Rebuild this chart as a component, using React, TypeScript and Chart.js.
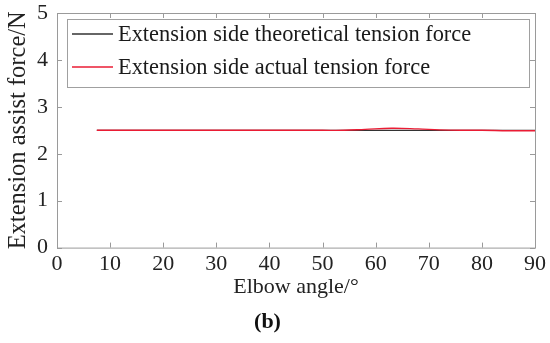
import React, { useEffect, useRef } from "react";
import { Chart, registerables } from "chart.js";

Chart.register(...registerables);

const angles = [7.5, 20, 30, 40, 50, 54, 58, 63, 68, 72, 76, 80, 85, 90];
const theoretical = [2.5, 2.5, 2.5, 2.5, 2.5, 2.5, 2.5, 2.5, 2.5, 2.5, 2.5, 2.5, 2.5, 2.5];
const actual = [2.5, 2.5, 2.5, 2.5, 2.5, 2.5, 2.52, 2.545, 2.53, 2.51, 2.5, 2.5, 2.49, 2.49];
const xTicks = [0, 10, 20, 30, 40, 50, 60, 70, 80, 90];
const yTicks = [0, 1, 2, 3, 4, 5];
const seriesLabels = ["Extension side theoretical tension force", "Extension side actual tension force"];
const seriesColors = ["#333333", "#ea1c34"];

const FONT = "'Liberation Serif', 'Times New Roman', serif";

const framePlugin = {
  id: "frame",
  afterDraw(chart: any) {
    const { ctx, chartArea } = chart;
    const { left, right, top, bottom } = chartArea;
    ctx.save();
    ctx.strokeStyle = "#9a9a9a";
    ctx.lineWidth = 1;
    ctx.strokeRect(left + 0.5, top + 0.5, right - left, bottom - top);
    const xs = chart.scales.x;
    const ys = chart.scales.y;
    ctx.beginPath();
    xTicks.forEach((v) => {
      const px = Math.round(xs.getPixelForValue(v)) + 0.5;
      ctx.moveTo(px, bottom);
      ctx.lineTo(px, bottom - 5);
      ctx.moveTo(px, top);
      ctx.lineTo(px, top + 5);
    });
    yTicks.forEach((v) => {
      const py = Math.round(ys.getPixelForValue(v)) + 0.5;
      ctx.moveTo(left, py);
      ctx.lineTo(left + 5, py);
      ctx.moveTo(right, py);
      ctx.lineTo(right - 5, py);
    });
    ctx.stroke();

    // legend box
    const bx = left + 10;
    const by = top + 6;
    const bw = right - left - 6 - 10;
    const bh = 68;
    ctx.fillStyle = "#ffffff";
    ctx.fillRect(bx, by, bw, bh);
    ctx.strokeStyle = "#a0a0a0";
    ctx.lineWidth = 1;
    ctx.strokeRect(bx + 0.5, by + 0.5, bw, bh);
    ctx.font = `22.4px ${FONT}`;
    ctx.textBaseline = "middle";
    ctx.textAlign = "left";
    seriesLabels.forEach((label, i) => {
      const ly = by + 15 + i * 33;
      ctx.strokeStyle = seriesColors[i];
      ctx.lineWidth = 1.5;
      ctx.beginPath();
      ctx.moveTo(bx + 5, ly);
      ctx.lineTo(bx + 46, ly);
      ctx.stroke();
      ctx.fillStyle = "#1a1a1a";
      ctx.fillText(label, bx + 51, ly + 1);
    });
    ctx.restore();
  },
};

export default function App() {
  const ref = useRef<HTMLCanvasElement>(null);
  useEffect(() => {
    document.body.style.margin = "0";
    const chart = new Chart(ref.current as HTMLCanvasElement, {
      type: "line",
      data: {
        datasets: [
          {
            label: seriesLabels[0],
            data: angles.map((a, i) => ({ x: a, y: theoretical[i] })),
            borderColor: seriesColors[0],
            borderWidth: 1.2,
            pointRadius: 0,
            tension: 0.4,
            order: 2,
          },
          {
            label: seriesLabels[1],
            data: angles.map((a, i) => ({ x: a, y: actual[i] })),
            borderColor: seriesColors[1],
            borderWidth: 1.4,
            pointRadius: 0,
            tension: 0.4,
            order: 1,
          },
        ],
      },
      options: {
        responsive: false,
        animation: false,
        layout: { padding: { top: 13, right: 15, left: 0, bottom: 0 } },
        plugins: {
          legend: { display: false },
          tooltip: { enabled: false },
          title: {
            display: true,
            position: "bottom",
            text: "(b)",
            color: "#111",
            font: { family: FONT, size: 22, weight: "bold" },
            padding: { top: 4, bottom: 7 },
          },
        },
        scales: {
          x: {
            type: "linear",
            min: 0,
            max: 90,
            afterBuildTicks: (s: any) => {
              s.ticks = xTicks.map((v) => ({ value: v }));
            },
            afterFit: (s: any) => {
              s.height = 58;
              s.paddingLeft = 0;
              s.paddingRight = 0;
            },
            ticks: { color: "#222", font: { family: FONT, size: 22 }, padding: 3, maxRotation: 0 },
            grid: { display: false, drawTicks: false },
            border: { display: false },
            title: {
              display: true,
              text: "Elbow angle/°",
              color: "#222",
              font: { family: FONT, size: 22 },
              padding: { top: 0, bottom: 5 },
            },
          },
          y: {
            type: "linear",
            min: 0,
            max: 5,
            afterBuildTicks: (s: any) => {
              s.ticks = yTicks.map((v) => ({ value: v }));
            },
            afterFit: (s: any) => {
              s.width = 57;
              s.paddingTop = 0;
              s.paddingBottom = 0;
            },
            ticks: { color: "#222", font: { family: FONT, size: 22 }, padding: 9 },
            grid: { display: false, drawTicks: false },
            border: { display: false },
            title: {
              display: true,
              text: "Extension assist force/N",
              color: "#222",
              font: { family: FONT, size: 24.5 },
              padding: { top: 4, bottom: 0 },
            },
          },
        },
      },
      plugins: [framePlugin],
    } as any);
    return () => chart.destroy();
  }, []);
  return (
    <div style={{ width: 550, height: 343, background: "#fff" }}>
      <canvas ref={ref} width={550} height={343} />
    </div>
  );
}
